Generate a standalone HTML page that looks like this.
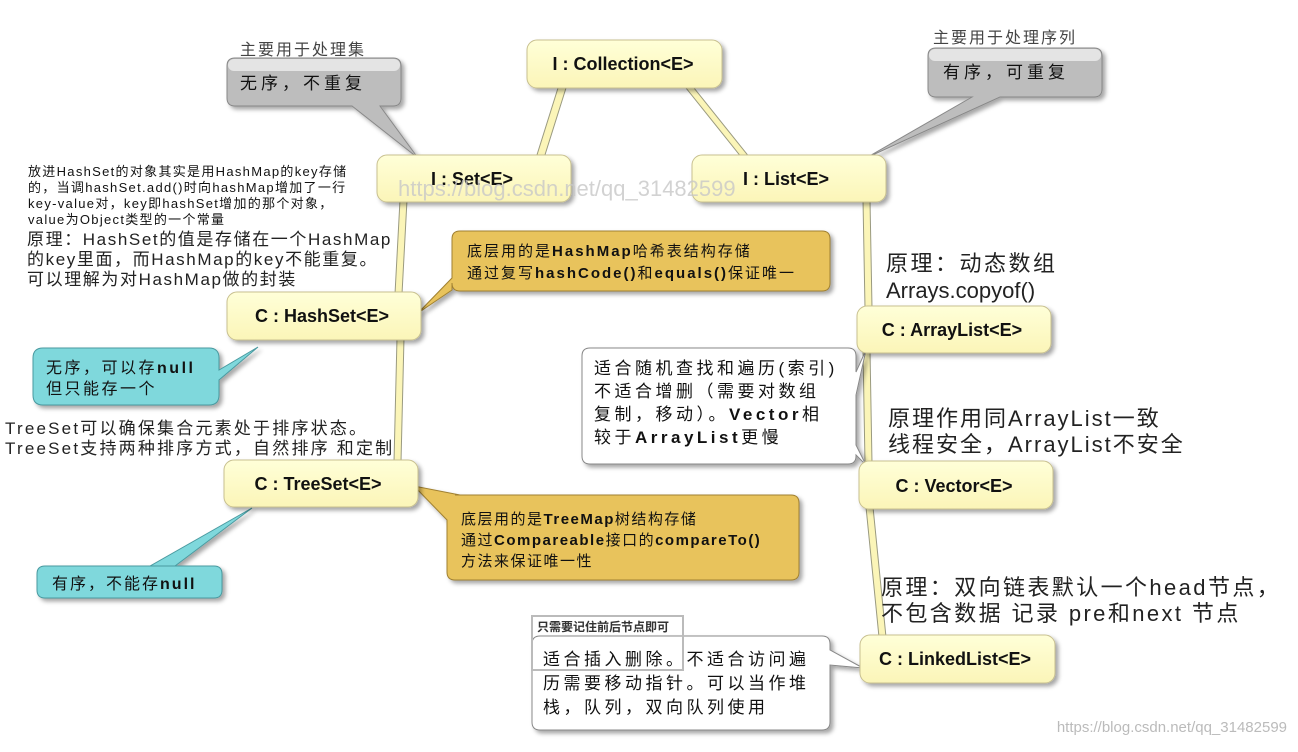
<!DOCTYPE html>
<html><head><meta charset="utf-8"><style>
html,body{margin:0;padding:0;background:#fff;}
svg text{font-family:"Liberation Sans","Noto Sans CJK SC",sans-serif;}
</style></head><body>
<svg width="1298" height="747" viewBox="0 0 1298 747" xmlns="http://www.w3.org/2000/svg">
<defs>
<linearGradient id="yg" x1="0" y1="0" x2="0" y2="1"><stop offset="0" stop-color="#ffffd8"/><stop offset="1" stop-color="#fbf5b8"/></linearGradient>
<filter id="sh" x="-10%" y="-10%" width="130%" height="140%"><feDropShadow dx="3" dy="3" stdDeviation="2" flood-color="#000" flood-opacity="0.35"/></filter>
</defs>
<rect x="0" y="0" width="1298" height="747" fill="#fff"/>
<g fill="#fbf5b8" stroke="#9a9a80" stroke-width="1">
<polygon points="558,88 566,88 544,158 536,158"/>
<polygon points="686,88 694,88 750,158 742,158"/>
<polygon points="400,200 407,200 402,294 395,294"/>
<polygon points="397,338 404,338 401,462 394,462"/>
<polygon points="863,200 870,200 872,308 865,308"/>
<polygon points="863,351 870,351 872,463 865,463"/>
<polygon points="866,507 873,507 886,637 879,637"/>
</g>
<g filter="url(#sh)">
<path d="M235,58 H393 Q401,58 401,66 V98 Q401,106 393,106 H380 L418,158 L352,106 H235 Q227,106 227,98 V66 Q227,58 235,58 Z" fill="#bdbdbd" stroke="#888"/>
<path d="M936,48 H1094 Q1102,48 1102,56 V89 Q1102,97 1094,97 H1000 L866,158 L972,97 H936 Q928,97 928,89 V56 Q928,48 936,48 Z" fill="#bdbdbd" stroke="#888"/>
</g>
<rect x="228" y="59" width="172" height="12" rx="6" fill="#e4e4e4"/>
<rect x="929" y="49" width="172" height="12" rx="6" fill="#e4e4e4"/>
<text x="240" y="55" font-size="16" fill="#444" letter-spacing="2">主要用于处理集</text>
<text x="933" y="43" font-size="16" fill="#444" letter-spacing="2">主要用于处理序列</text>
<text x="240" y="89" font-size="17" fill="#111" letter-spacing="4">无序，不重复</text>
<text x="943" y="78" font-size="17" fill="#111" letter-spacing="4">有序，可重复</text>
<g filter="url(#sh)" fill="#e8c35c" stroke="#a08030">
<path d="M460,231 H822 Q830,231 830,239 V283 Q830,291 822,291 H460 Q452,291 452,283 V290 L418,313 L452,278 V239 Q452,231 460,231 Z"/>
<path d="M455,495 H791 Q799,495 799,503 V572 Q799,580 791,580 H455 Q447,580 447,572 V520 L414,486 L460,495 Z"/>
</g>
<text font-size="15" fill="#111" letter-spacing="2"><tspan x="467" y="256">底层用的是<tspan font-weight="bold">HashMap</tspan>哈希表结构存储</tspan><tspan x="467" y="278">通过复写<tspan font-weight="bold">hashCode()</tspan>和<tspan font-weight="bold">equals()</tspan>保证唯一</tspan></text>
<text font-size="15" fill="#111" letter-spacing="1.5"><tspan x="461" y="524">底层用的是<tspan font-weight="bold">TreeMap</tspan>树结构存储</tspan><tspan x="461" y="545">通过<tspan font-weight="bold">Compareable</tspan>接口的<tspan font-weight="bold">compareTo()</tspan></tspan><tspan x="461" y="566">方法来保证唯一性</tspan></text>
<g filter="url(#sh)" fill="#7fd8dc" stroke="#4a9aa0">
<path d="M43,348 H209 Q219,348 219,358 V370 L258,347 L219,380 V395 Q219,405 209,405 H43 Q33,405 33,395 V358 Q33,348 43,348 Z"/>
<path d="M45,566 H214 Q222,566 222,574 V590 Q222,598 214,598 H45 Q37,598 37,590 V574 Q37,566 45,566 H150 L252,508 L175,566 Z"/>
</g>
<text font-size="16" fill="#111" letter-spacing="2.5"><tspan x="46" y="373">无序，可以存<tspan font-weight="bold">null</tspan></tspan><tspan x="46" y="394">但只能存一个</tspan></text>
<text x="52" y="589" font-size="16" fill="#111" letter-spacing="2">有序，不能存<tspan font-weight="bold">null</tspan></text>
<g filter="url(#sh)" fill="#fff" stroke="#888">
<path d="M590,348 H848 Q856,348 856,356 V372 L866,350 L856,395 V445 L866,465 L856,455 V456 Q856,464 848,464 H590 Q582,464 582,456 V356 Q582,348 590,348 Z"/>
<path d="M540,636 H822 Q830,636 830,644 V650 L863,668 L830,665 V722 Q830,730 822,730 H540 Q532,730 532,722 V644 Q532,636 540,636 Z"/>
</g>
<text font-size="17" fill="#111" letter-spacing="3.5"><tspan x="594" y="374">适合随机查找和遍历(索引)</tspan><tspan x="594" y="397">不适合增删（需要对数组</tspan><tspan x="594" y="420">复制，移动）。<tspan font-weight="bold">Vector</tspan>相</tspan><tspan x="594" y="443">较于<tspan font-weight="bold">ArrayList</tspan>更慢</tspan></text>
<text font-size="17" fill="#111" letter-spacing="3.5"><tspan x="543" y="665">适合插入删除。不适合访问遍</tspan><tspan x="543" y="689">历需要移动指针。可以当作堆</tspan><tspan x="543" y="713">栈，队列，双向队列使用</tspan></text>
<rect x="532" y="616" width="151" height="54" fill="none" stroke="#bbb" stroke-width="2"/>
<rect x="533" y="617" width="149" height="17" fill="#fff"/>
<text x="537" y="631" font-size="12" font-weight="bold" fill="#333">只需要记住前后节点即可</text>
<g filter="url(#sh)" fill="url(#yg)" stroke="#c8c090">
<rect x="527" y="40" width="195" height="48" rx="10"/>
<rect x="377" y="155" width="194" height="47" rx="10"/>
<rect x="692" y="155" width="194" height="47" rx="10"/>
<rect x="227" y="292" width="194" height="48" rx="10"/>
<rect x="224" y="460" width="194" height="47" rx="10"/>
<rect x="857" y="306" width="194" height="47" rx="10"/>
<rect x="859" y="461" width="194" height="48" rx="10"/>
<rect x="860" y="635" width="195" height="48" rx="10"/>
</g>
<g font-size="18" font-weight="bold" fill="#111" text-anchor="middle">
<text x="623" y="70">I : Collection&lt;E&gt;</text>
<text x="472" y="185">I : Set&lt;E&gt;</text>
<text x="786" y="185">I : List&lt;E&gt;</text>
<text x="322" y="322">C : HashSet&lt;E&gt;</text>
<text x="318" y="490">C : TreeSet&lt;E&gt;</text>
<text x="952" y="336">C : ArrayList&lt;E&gt;</text>
<text x="954" y="492">C : Vector&lt;E&gt;</text>
<text x="955" y="665">C : LinkedList&lt;E&gt;</text>
</g>
<text x="398" y="196" font-size="22" fill="#c8c8c8" opacity="0.8">https://blog.csdn.net/qq_31482599</text>
<g font-family="Liberation Serif" font-size="13" fill="#111" letter-spacing="1.3">
<text x="28" y="176">放进HashSet的对象其实是用HashMap的key存储</text>
<text x="28" y="192">的，当调hashSet.add()时向hashMap增加了一行</text>
<text x="28" y="208">key-value对，key即hashSet增加的那个对象，</text>
<text x="28" y="224">value为Object类型的一个常量</text>
</g>
<text font-size="17" fill="#222" letter-spacing="1.6"><tspan x="27" y="245">原理：HashSet的值是存储在一个HashMap</tspan><tspan x="27" y="265">的key里面，而HashMap的key不能重复。</tspan><tspan x="27" y="285">可以理解为对HashMap做的封装</tspan></text>
<text font-size="17" fill="#222" letter-spacing="2.2"><tspan x="5" y="434">TreeSet可以确保集合元素处于排序状态。</tspan><tspan x="5" y="454">TreeSet支持两种排序方式，自然排序 和定制</tspan></text>
<text font-size="22" fill="#222" letter-spacing="2.5"><tspan x="886" y="271">原理：动态数组</tspan><tspan x="886" y="298" letter-spacing="0">Arrays.copyof()</tspan></text>
<text font-size="22" fill="#222" letter-spacing="2"><tspan x="888" y="426">原理作用同ArrayList一致</tspan><tspan x="888" y="452">线程安全，ArrayList不安全</tspan></text>
<text font-size="22" fill="#222" letter-spacing="2.4"><tspan x="881" y="595">原理：双向链表默认一个head节点，</tspan><tspan x="881" y="621">不包含数据  记录 pre和next 节点</tspan></text>
<text x="1287" y="732" font-size="15" font-family="Liberation Serif" fill="#bbb" text-anchor="end">https://blog.csdn.net/qq_31482599</text>
</svg>
</body></html>
